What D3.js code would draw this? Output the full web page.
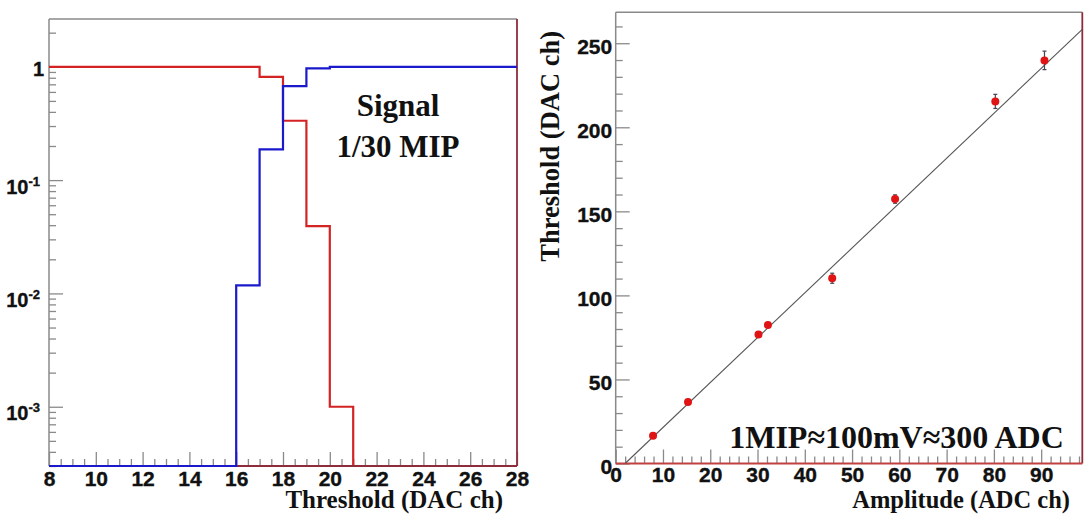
<!DOCTYPE html>
<html>
<head>
<meta charset="utf-8">
<script src="https://cdn.jsdelivr.net/npm/d3@7"></script>
<style>
  body { margin: 0; background: #fff; }
  svg { display: block; }
  .tick text { font-family: "Liberation Sans", Arial, sans-serif; font-weight: bold; fill: #111; stroke: #111; stroke-width: 0.35px; }
  .lbl { font-family: "Liberation Sans", Arial, sans-serif; font-weight: bold; fill: #111; stroke: #111; stroke-width: 0.35px; }
</style>
</head>
<body>
<svg id="chart" width="1087" height="516"></svg>
<script>
// ---- Left panel: step histograms vs. threshold (log scale) ----
const thresholdBins = [8, 9, 10, 11, 12, 13, 14, 15, 16, 17, 18, 19, 20, 21, 22, 23, 24, 25, 26, 27];
const binWidth = 1;
const redRate  = [1, 1, 1, 1, 1, 1, 1, 1, 1, 0.816, 0.334, 0.0393, 0.001, 0, 0, 0, 0, 0, 0, 0];
const blueRate = [0, 0, 0, 0, 0, 0, 0, 0, 0.0118, 0.187, 0.676, 0.968, 1, 1, 1, 1, 1, 1, 1, 1];
const leftXTicks = [8, 10, 12, 14, 16, 18, 20, 22, 24, 26, 28];
const leftYDecades = [1e-3, 1e-2, 1e-1, 1];
const leftYLabels = [["10", "-3"], ["10", "-2"], ["10", "-1"], ["1", ""]];

// ---- Right panel: threshold vs. amplitude with linear fit ----
const amplitude    = [7.9, 15.3, 30.2, 32.2, 45.8, 59.1, 80.3, 90.7];
const thresholdDac = [16.5, 36.6, 76.7, 82.4, 110.2, 157.3, 215.4, 239.8];
const thresholdErr = [1, 1, 1.2, 1.2, 3, 2.5, 4.2, 5.5];
const fitSlope = 2.67;
const fitIntercept = -5.3;
const rightXTicks = [0, 10, 20, 30, 40, 50, 60, 70, 80, 90];
const rightYTicks = [0, 50, 100, 150, 200, 250];

const svg = d3.select("#chart");
const AXIS_GRAY = "#8a8a8a";
const MAROON = "#8e2c3c";
const SERIF = "'Liberation Serif', 'Times New Roman', serif";
const TICK_FONT = 21;

function styleAxis(g) {
  g.select(".domain").remove();
  g.selectAll(".tick line").attr("stroke", AXIS_GRAY).attr("stroke-width", 1.3);
  g.selectAll(".tick text").style("font-size", TICK_FONT + "px");
}

// ================= Left panel =================
const L = { x0: 49, x1: 517, y0: 19, y1: 466 };
const xL = d3.scaleLinear().domain([8, 28]).range([L.x0, L.x1]);
const yL = d3.scaleLog().domain([3e-4, 2.64]).range([L.y1, L.y0]);
const yMinL = yL.domain()[0];

const left = svg.append("g");

// minor ticks
const leftXMinor = d3.range(8, 28.001, 0.5).filter(v => v % 2 !== 0);
left.append("g").attr("transform", `translate(0,${L.y1})`)
  .call(d3.axisBottom(xL).tickValues(leftXMinor).tickSize(-7).tickFormat(""))
  .call(styleAxis);
const leftYMinor = [];
[-4, -3, -2, -1, 0].forEach(e => { for (let m = 2; m <= 9; m++) { const v = m * Math.pow(10, e); if (v >= yMinL && v <= yL.domain()[1]) leftYMinor.push(v); } });
left.append("g").attr("transform", `translate(${L.x0},0)`)
  .call(d3.axisLeft(yL).tickValues(leftYMinor).tickSize(-7).tickFormat(""))
  .call(styleAxis);

// major ticks
left.append("g").attr("transform", `translate(0,${L.y1})`)
  .call(d3.axisBottom(xL).tickValues(leftXTicks).tickSizeInner(-14).tickSizeOuter(0).tickPadding(5.5).tickFormat(d3.format("d")))
  .call(styleAxis);
left.append("g").attr("transform", `translate(${L.x0},0)`)
  .call(d3.axisLeft(yL).tickValues(leftYDecades).tickSizeInner(-14).tickSizeOuter(0).tickFormat(""))
  .call(styleAxis);

// decade labels with exponents
leftYDecades.forEach((v, i) => {
  const [base, exp] = leftYLabels[i];
  const y = yL(v);
  if (exp === "") {
    left.append("text").attr("class", "lbl").attr("x", L.x0 - 5).attr("y", y + 9.5)
      .attr("text-anchor", "end").style("font-size", "20px").text(base);
  } else {
    const t = left.append("text").attr("class", "lbl").attr("x", L.x0 - 9).attr("y", y + 13.5)
      .attr("text-anchor", "end");
    t.append("tspan").style("font-size", "20px").text(base);
    t.append("tspan").style("font-size", "13px").attr("dy", -8).text(exp);
  }
});

// frame
left.append("line").attr("x1", L.x0).attr("x2", L.x1).attr("y1", L.y0).attr("y2", L.y0).attr("stroke", AXIS_GRAY).attr("stroke-width", 1.5);
left.append("line").attr("x1", L.x0).attr("x2", L.x0).attr("y1", L.y0).attr("y2", L.y1).attr("stroke", AXIS_GRAY).attr("stroke-width", 1.5);
left.append("line").attr("x1", L.x1).attr("x2", L.x1).attr("y1", L.y0).attr("y2", L.y1).attr("stroke", MAROON).attr("stroke-width", 1.8);

// step outline for a histogram
function stepPoints(values) {
  const pts = thresholdBins.map((b, i) => [b, Math.max(values[i], yMinL)]);
  pts.push([thresholdBins[thresholdBins.length - 1] + binWidth, Math.max(values[values.length - 1], yMinL)]);
  return pts;
}
const stepLine = d3.line().x(d => xL(d[0])).y(d => yL(d[1])).curve(d3.curveStepAfter);

left.append("path").attr("d", stepLine(stepPoints(redRate)))
  .attr("fill", "none").attr("stroke", "#d42323").attr("stroke-width", 2.2);
left.append("line").attr("x1", xL(16)).attr("x2", L.x1).attr("y1", L.y1).attr("y2", L.y1)
  .attr("stroke", MAROON).attr("stroke-width", 2.2);
left.append("path").attr("d", stepLine(stepPoints(blueRate)))
  .attr("fill", "none").attr("stroke", "#1a1acc").attr("stroke-width", 2.2);

// annotation and axis title
left.append("text").attr("x", 398).attr("y", 115.5).attr("text-anchor", "middle")
  .style("font-family", SERIF).style("font-weight", "bold").style("font-size", "31px").attr("fill", "#111").text("Signal");
left.append("text").attr("x", 398).attr("y", 156.5).attr("text-anchor", "middle")
  .style("font-family", SERIF).style("font-weight", "bold").style("font-size", "31px").attr("fill", "#111").text("1/30 MIP");
left.append("text").attr("x", 503).attr("y", 508).attr("text-anchor", "end")
  .style("font-family", SERIF).style("font-weight", "bold").style("font-size", "25px").attr("fill", "#111").text("Threshold (DAC ch)");

// ================= Right panel =================
const R = { x0: 615.7, x1: 1082.3, y0: 12.3, y1: 463.5 };
const xR = d3.scaleLinear().domain([0, 98.7]).range([R.x0, R.x1]);
const yR = d3.scaleLinear().domain([0, 268.4]).range([R.y1, R.y0]);

const right = svg.append("g");

right.append("g").attr("transform", `translate(0,${R.y1})`)
  .call(d3.axisBottom(xR).tickValues(d3.range(0, 98.01, 2).filter(v => v % 10 !== 0)).tickSize(-7).tickFormat(""))
  .call(styleAxis);
right.append("g").attr("transform", `translate(${R.x0},0)`)
  .call(d3.axisLeft(yR).tickValues(d3.range(0, 268, 10).filter(v => v % 50 !== 0)).tickSize(-7).tickFormat(""))
  .call(styleAxis);
right.append("g").attr("transform", `translate(0,${R.y1})`)
  .call(d3.axisBottom(xR).tickValues(rightXTicks).tickSizeInner(-14).tickSizeOuter(0).tickPadding(4).tickFormat(d3.format("d")))
  .call(styleAxis);
right.append("g").attr("transform", `translate(${R.x0},0)`)
  .call(d3.axisLeft(yR).tickValues(rightYTicks).tickSizeInner(-14).tickSizeOuter(0).tickPadding(3.5).tickFormat(d3.format("d")))
  .call(styleAxis)
  .call(g => g.selectAll(".tick text").attr("dy", "0.47em"));

// frame
right.append("line").attr("x1", R.x0).attr("x2", R.x1).attr("y1", R.y0).attr("y2", R.y0).attr("stroke", AXIS_GRAY).attr("stroke-width", 1.5);
right.append("line").attr("x1", R.x0).attr("x2", R.x0).attr("y1", R.y0).attr("y2", R.y1).attr("stroke", AXIS_GRAY).attr("stroke-width", 1.5);
right.append("line").attr("x1", R.x1).attr("x2", R.x1).attr("y1", R.y0).attr("y2", R.y1).attr("stroke", MAROON).attr("stroke-width", 1.8);
right.append("line").attr("x1", R.x0).attr("x2", R.x1).attr("y1", R.y1).attr("y2", R.y1).attr("stroke", "#c24040").attr("stroke-width", 1.8);

// fit line, clipped to the frame
right.append("clipPath").attr("id", "clipR").append("rect")
  .attr("x", R.x0).attr("y", R.y0).attr("width", R.x1 - R.x0).attr("height", R.y1 - R.y0);
const xStart = -fitIntercept / fitSlope;
right.append("line").attr("clip-path", "url(#clipR)")
  .attr("x1", xR(xStart)).attr("y1", yR(0))
  .attr("x2", xR(98.7)).attr("y2", yR(fitSlope * 98.7 + fitIntercept))
  .attr("stroke", "#555").attr("stroke-width", 1.1);

// error bars and markers
const pts = amplitude.map((a, i) => ({ a, t: thresholdDac[i], e: thresholdErr[i] }));
const eb = right.append("g").attr("stroke", "#445").attr("stroke-width", 1.2);
pts.forEach(p => {
  eb.append("line").attr("x1", xR(p.a)).attr("x2", xR(p.a)).attr("y1", yR(p.t - p.e)).attr("y2", yR(p.t + p.e));
  eb.append("line").attr("x1", xR(p.a) - 2).attr("x2", xR(p.a) + 2).attr("y1", yR(p.t - p.e)).attr("y2", yR(p.t - p.e));
  eb.append("line").attr("x1", xR(p.a) - 2).attr("x2", xR(p.a) + 2).attr("y1", yR(p.t + p.e)).attr("y2", yR(p.t + p.e));
});
right.append("g").selectAll("circle").data(pts).join("circle")
  .attr("cx", d => xR(d.a)).attr("cy", d => yR(d.t)).attr("r", 4)
  .attr("fill", "#e01414");

// annotation and axis titles
right.append("text").attr("x", 896.5).attr("y", 448).attr("text-anchor", "middle")
  .style("font-family", SERIF).style("font-weight", "bold").style("font-size", "32px").attr("fill", "#111")
  .text("1MIP\u2248100mV\u2248300 ADC");
right.append("text").attr("x", 1070).attr("y", 508).attr("text-anchor", "end")
  .style("font-family", SERIF).style("font-weight", "bold").style("font-size", "24.5px").attr("fill", "#111")
  .text("Amplitude (ADC ch)");
right.append("text").attr("transform", "translate(559,31) rotate(-90)").attr("text-anchor", "end")
  .style("font-family", SERIF).style("font-weight", "bold").style("font-size", "26.5px").attr("fill", "#111")
  .text("Threshold (DAC ch)");
</script>
</body>
</html>
